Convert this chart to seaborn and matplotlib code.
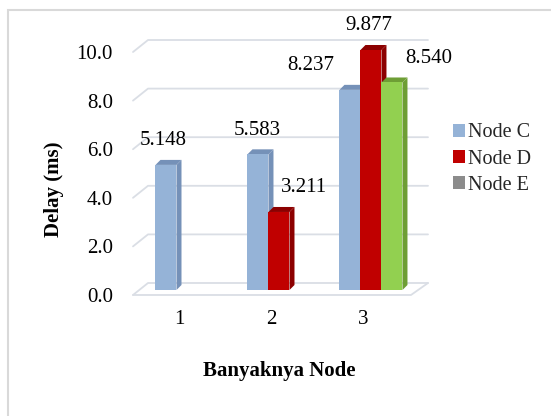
import matplotlib
matplotlib.use("Agg")
import matplotlib.pyplot as plt
import pandas as pd
import seaborn as sns
from matplotlib import transforms
from matplotlib.colors import to_hex
from matplotlib.lines import Line2D
from matplotlib.patches import Patch, Polygon, Rectangle

# ---- data -------------------------------------------------------------
groups = ["1", "2", "3"]
nodes = ["Node C", "Node D", "Node E"]
node_c = [5.148, 5.583, 8.237]
node_d = [None, 3.211, 9.877]
node_e = [None, None, 8.540]
y_ticks = [0, 2, 4, 6, 8, 10]

# ---- styling ----------------------------------------------------------
face_colors = {"Node C": "#95B3D7", "Node D": "#C00000", "Node E": "#92D050"}
side_colors = {"Node C": "#7591B8", "Node D": "#8C0000", "Node E": "#6E9E35"}
legend_colors = {"Node C": "#95B3D7", "Node D": "#C00000", "Node E": "#8C8C8C"}
grid_color = "#DADEE5"
# horizontal pixel shift of each value label relative to its bar
label_dx = {("1", "Node C"): -3, ("2", "Node C"): -1, ("2", "Node D"): 25,
            ("3", "Node C"): -39, ("3", "Node D"): -2, ("3", "Node E"): 37}

rows = []
for g, c, d, e in zip(groups, node_c, node_d, node_e):
    for n, v in zip(nodes, (c, d, e)):
        if v is not None:
            rows.append({"Banyaknya Node": g, "Node": n, "Delay": v})
df = pd.DataFrame(rows)

sns.set_theme(style="white")
plt.rcParams["font.family"] = ["Liberation Serif", "DejaVu Serif"]

W, H, DPI = 551, 416, 100
fig = plt.figure(figsize=(W / DPI, H / DPI), dpi=DPI)
fig.patch.set_facecolor("white")

AX_L, AX_R, AX_T, AX_B = 133, 428, 30, 295
ax = fig.add_axes([AX_L / W, 1 - AX_B / H, (AX_R - AX_L) / W, (AX_B - AX_T) / H])
ax.set_facecolor("none")

sns.barplot(data=df, x="Banyaknya Node", y="Delay", hue="Node",
            order=groups, hue_order=nodes, palette=face_colors,
            width=0.685, gap=0, errorbar=None, saturation=1,
            linewidth=0, legend=False, ax=ax, zorder=3)

ax.set_xlim(-0.587, 2.62)
ax.set_ylim(-0.206, 10.70)
for s in ax.spines.values():
    s.set_visible(False)
ax.grid(False)

ident = transforms.IdentityTransform()

# back-wall gridlines with a short perspective slant on the left
BACK_X0 = 148
for v in y_ticks:
    yb = ax.transData.transform((0, v))[1]
    front_y, back_y = yb - 5, yb + 7
    ax.add_line(Line2D([AX_L, BACK_X0, AX_R], [front_y, back_y, back_y],
                       transform=ident, color=grid_color, lw=1.3,
                       zorder=1, clip_on=False))
    if v == 0:
        ax.add_line(Line2D([AX_L, 411, AX_R], [front_y, front_y, back_y],
                           transform=ident, color=grid_color, lw=1.3,
                           zorder=1, clip_on=False))

# bars: add a shaded top and right face, then the value labels
rev = {to_hex(c).lower(): n for n, c in face_colors.items()}
bars = list(ax.patches)
D = 5
for p in bars:
    node = rev[to_hex(p.get_facecolor()).lower()]
    grp = groups[int(round(p.get_x() + p.get_width() / 2))]
    x0, y0 = ax.transData.transform((p.get_x(), 0))
    x1, y1 = ax.transData.transform((p.get_x() + p.get_width(), p.get_height()))
    side = Polygon([(x1, y0), (x1 + D, y0 + D), (x1 + D, y1 + D), (x1, y1)],
                   closed=True, transform=ident, facecolor=side_colors[node],
                   edgecolor="none", zorder=2.9, clip_on=False)
    top = Polygon([(x0, y1), (x0 + D, y1 + D), (x1 + D, y1 + D), (x1, y1)],
                  closed=True, transform=ident, facecolor=side_colors[node],
                  edgecolor="none", zorder=2.9, clip_on=False)
    ax.add_patch(side)
    ax.add_patch(top)
    h = p.get_height()
    ax.annotate(f"{h:.3f}", xy=(p.get_x() + p.get_width() / 2, h),
                xytext=(label_dx[(grp, node)], 24), textcoords="offset pixels",
                ha="center", va="center", fontsize=15, color="black",
                zorder=5)

# ticks
ax.set_yticks(y_ticks)
ax.set_yticklabels([f"{v:.1f}" for v in y_ticks])
ax.tick_params(axis="both", length=0, labelsize=15, colors="black")
ax.tick_params(axis="y", pad=14.4)
ax.tick_params(axis="x", pad=11)
shift_y = transforms.ScaledTranslation(0, -0.05, fig.dpi_scale_trans)
for lab in ax.get_yticklabels():
    lab.set_transform(lab.get_transform() + shift_y)
shift_x = transforms.ScaledTranslation(-0.08, 0, fig.dpi_scale_trans)
for lab in ax.get_xticklabels():
    lab.set_transform(lab.get_transform() + shift_x)

# axis titles
ax.set_xlabel("Banyaknya Node", fontsize=15, fontweight="bold", color="black")
ax.set_ylabel("Delay (ms)", fontsize=15, fontweight="bold", color="black")
ax.xaxis.set_label_coords((279 - AX_L) / (AX_R - AX_L), (AX_B - 371) / (AX_B - AX_T))
ax.xaxis.label.set_va("center")
ax.yaxis.set_label_coords((54.5 - AX_L) / (AX_R - AX_L), (AX_B - 189) / (AX_B - AX_T))
ax.yaxis.label.set_va("center")
ax.yaxis.label.set_ha("center")

# legend
handles = [Patch(facecolor=legend_colors[n], edgecolor="none", label=n) for n in nodes]
fig.legend(handles=handles, loc="center left",
           bbox_to_anchor=(453 / W, 1 - 159 / H), frameon=False,
           fontsize=14.5, handlelength=0.6, handleheight=0.6,
           handletextpad=0.15, labelspacing=0.35, borderpad=0,
           borderaxespad=0)

# chart-area border
fig.add_artist(Rectangle((8 / W, -0.1), 1.2, 1 - 10 / H + 0.1,
                         transform=fig.transFigure, facecolor="none",
                         edgecolor="#D9D9D9", lw=1.5, clip_on=False))

fig.savefig("out.png", dpi=DPI)
